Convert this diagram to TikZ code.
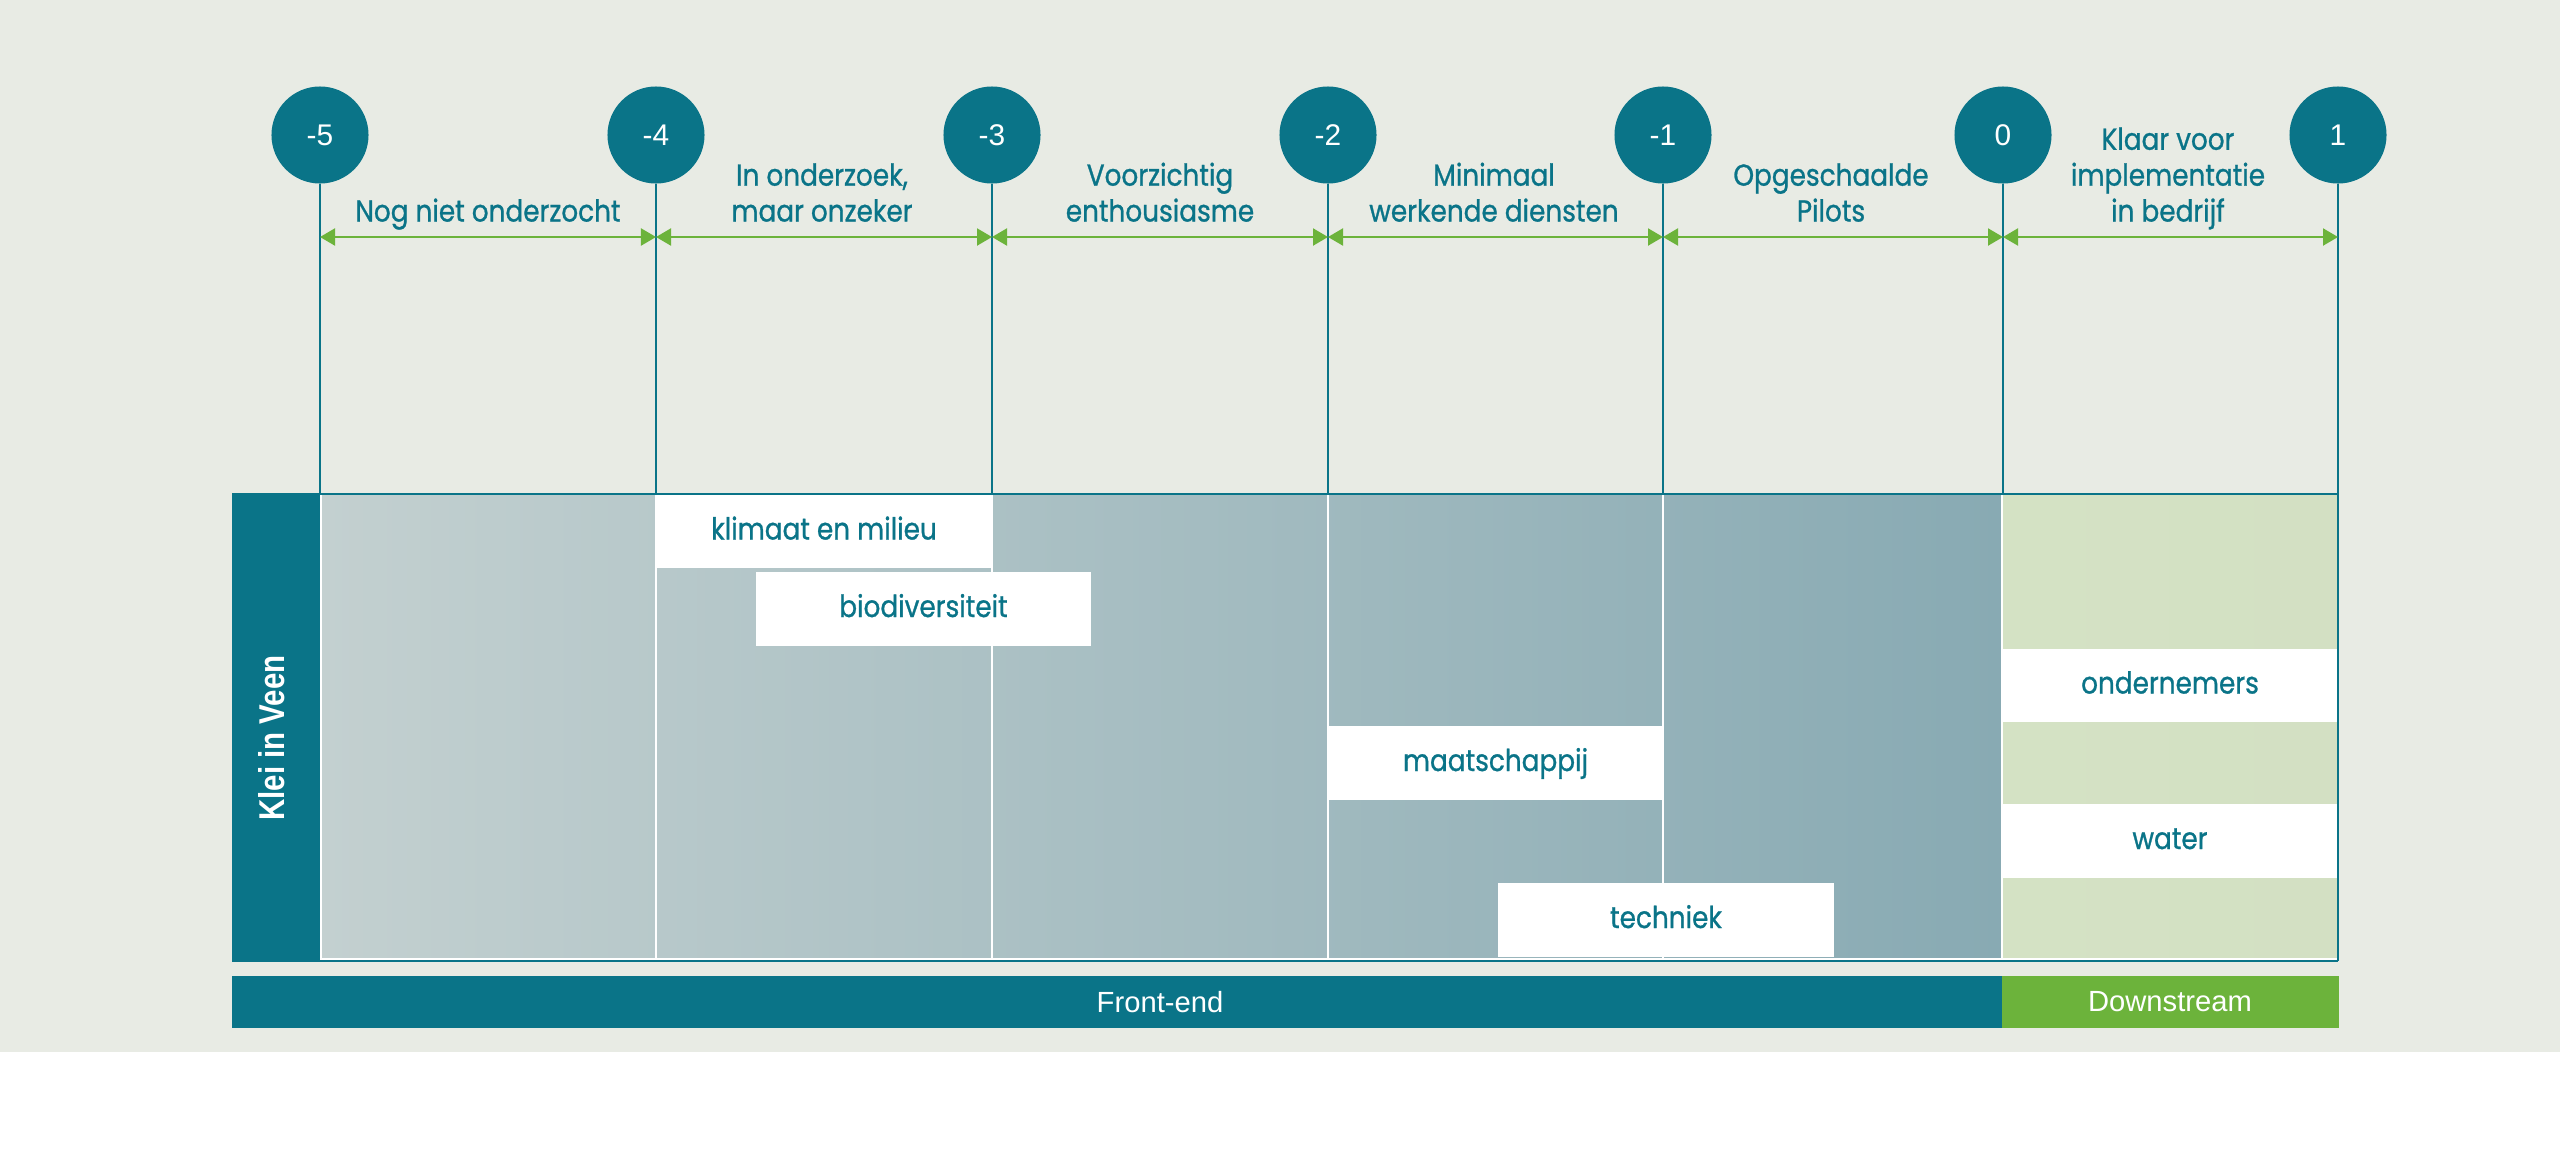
\documentclass[tikz,border=0pt]{standalone}
\usepackage{fontspec}
\setmainfont{Liberation Sans}
\newfontfamily\lblfont[FakeStretch=0.87,FakeBold=0.9]{Poppins}
\newfontfamily\kleifont[FakeStretch=0.82]{Liberation Sans}
\usetikzlibrary{arrows.meta}
\definecolor{teal}{RGB}{10,116,136}
\definecolor{grn}{RGB}{108,179,59}
\definecolor{bgc}{RGB}{232,235,228}
\definecolor{pleft}{RGB}{195,208,208}
\definecolor{pright}{RGB}{136,170,179}
\definecolor{gleft}{RGB}{212,226,196}
\definecolor{gmid}{RGB}{204,222,185}
\definecolor{gright}{RGB}{211,224,195}
\begin{document}
\begin{tikzpicture}[x=0.01cm,y=-0.01cm,
  stage/.style={circle,fill=teal,minimum size=0.97cm,inner sep=0pt,text=white,font=\fontsize{8.5}{10}\selectfont},
  tick/.style={draw=teal,line width=0.6pt},
  span/.style={draw=grn,line width=0.6pt,{Triangle[length=0.15cm,width=0.17cm]}-{Triangle[length=0.15cm,width=0.17cm]}},
  lbl/.style={align=center,text=teal,font=\lblfont\fontsize{8.6}{10.2}\selectfont,inner sep=0pt,anchor=south},
  tag/.style={fill=white,minimum width=3.35cm,minimum height=0.73cm,inner sep=0pt,text=teal,
    font=\lblfont\fontsize{8.6}{10.2}\selectfont,text height=0.16cm,text depth=0cm},
  bartext/.style={text=white,inner sep=0pt,font=\fontsize{8.3}{10}\selectfont}
]
\useasboundingbox (0,0) rectangle (2560,1172);
\fill[white] (0,0) rectangle (2560,1172);
\fill[bgc] (0,0) rectangle (2560,1052);

% panel
\shade[left color=pleft,right color=pright] (320,495) rectangle (2002,959);
\shade[left color=gleft,middle color=gmid,right color=gright] (2002,495) rectangle (2338,959);
\foreach \x in {656,992,1328,1663,2002}{\draw[white,line width=0.55pt] (\x,495) -- (\x,960);}
\draw[white,line width=0.4pt] (321,495) -- (321,959) -- (2338,959);

% left strip
\fill[teal] (232,494) rectangle (320,961);
\node[rotate=90,text=white,inner sep=0pt,font=\kleifont\bfseries\fontsize{10.2}{12}\selectfont] (klei) at (272,738) {Klei in Veen};
\draw[teal,line width=0.6pt] (232,494) -- (2338,494);
\draw[teal,line width=0.6pt] (232,961) -- (2338,961);

% white tags
\node[tag] (klimaat) at (824,531.5) {klimaat en milieu};
\node[tag] (bio) at (923.5,609) {biodiversiteit};
\node[tag] (maat) at (1495.5,763) {maatschappij};
\node[tag] (tech) at (1666,920) {techniek};
\node[tag] (onder) at (2170,685.5) {ondernemers};
\node[tag] (water) at (2170,841) {water};

% stages
\foreach \i/\x/\t/\yb in {1/320/-5/494,2/656/-4/494,3/992/-3/494,4/1328/-2/494,5/1663/-1/494,6/2003/0/494,7/2338/1/961}{
  \node[stage] (c\i) at (\x,135) {\t};
  \coordinate (t\i) at (\x,\yb);
  \coordinate (a\i) at (\x,237);
  \draw[tick] (c\i.south) -- (t\i);
}
\foreach \i/\j in {1/2,2/3,3/4,4/5,5/6,6/7}{\draw[span] (a\i) -- (a\j);}

% labels
\node[lbl] (l1) at (488,233) {Nog niet onderzocht\strut};
\node[lbl] (l2) at (822,233) {In onderzoek,\\maar onzeker\strut};
\node[lbl] (l3) at (1160,233) {Voorzichtig\\enthousiasme\strut};
\node[lbl] (l4) at (1494,233) {Minimaal\\werkende diensten\strut};
\node[lbl] (l5) at (1831,233) {Opgeschaalde\\Pilots\strut};
\node[lbl] (l6) at (2168,233) {Klaar voor\\implementatie\\in bedrijf\strut};

% bottom bars
\fill[teal] (232,976) rectangle (2002,1028);
\fill[grn] (2002,976) rectangle (2339,1028);
\node[bartext] (front) at (1160,1002) {Front-end};
\node[bartext] (down) at (2170,1002) {Downstream};
\end{tikzpicture}
\end{document}
